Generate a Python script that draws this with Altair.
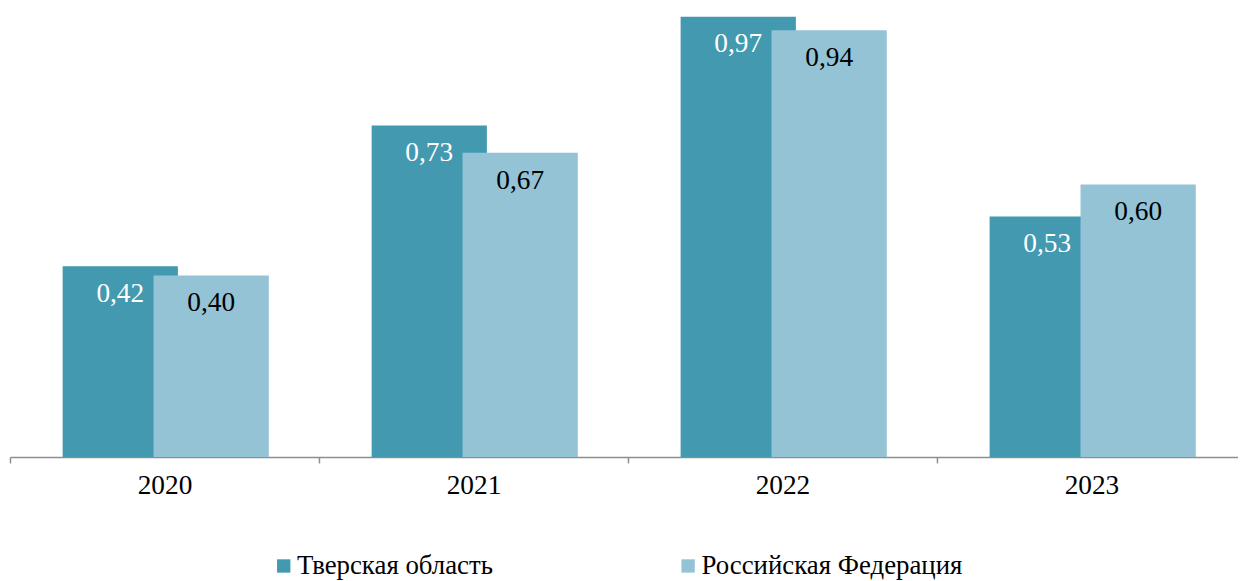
import altair as alt
import pandas as pd

years = ["2020", "2021", "2022", "2023"]
series_names = ["Тверская область", "Российская Федерация"]
tver = [0.42, 0.73, 0.97, 0.53]
rf = [0.40, 0.67, 0.94, 0.60]
colors = ["#4299B0", "#93C3D5"]

rows = []
for s, vals in zip(series_names, [tver, rf]):
    for y, v in zip(years, vals):
        rows.append({"year": y, "series": s, "value": v,
                     "label": f"{v:.2f}".replace(".", ",")})
df = pd.DataFrame(rows)

FONT = "Liberation Serif"

x_enc = alt.X("year:N", sort=years,
              scale=alt.Scale(range=[0, 1244], paddingInner=0, paddingOuter=0),
              axis=alt.Axis(title=None, labelAngle=0, tickBand="extent",
                            domainColor="#8E8E8E", domainWidth=1.5,
                            tickColor="#8E8E8E", tickWidth=1.5, tickSize=6,
                            labelFont=FONT, labelFontSize=27.5, labelColor="#000000",
                            labelBaseline="alphabetic", labelPadding=31))
y_enc = alt.Y("value:Q", scale=alt.Scale(domain=[0, 0.985], nice=False, zero=True), axis=None)
color_enc = alt.Color("series:N",
                      scale=alt.Scale(domain=series_names, range=colors),
                      legend=alt.Legend(title=None, orient="none", legendX=262, legendY=546,
                                        direction="horizontal", symbolType="square",
                                        symbolSize=180, symbolStrokeWidth=0,
                                        labelFont=FONT, labelFontSize=27, labelColor="#000000",
                                        labelLimit=500, labelOffset=0, columnPadding=182))

base = alt.Chart(df)

bar_dark = base.transform_filter(alt.datum.series == series_names[0]).mark_bar(
    xOffset=-44.5, width=116).encode(x=x_enc, y=y_enc, color=color_enc)
bar_light = base.transform_filter(alt.datum.series == series_names[1]).mark_bar(
    xOffset=47, width=116).encode(x=x_enc, y=y_enc, color=color_enc)

txt_dark = base.transform_filter(alt.datum.series == series_names[0]).mark_text(
    xOffset=-44.5, dy=28, baseline="middle", align="center", font=FONT, fontSize=27.5,
    color="#FFFFFF").encode(x=x_enc, y=y_enc, text="label:N")
txt_light = base.transform_filter(alt.datum.series == series_names[1]).mark_text(
    xOffset=47, dy=28, baseline="middle", align="center", font=FONT, fontSize=27.5,
    color="#000000").encode(x=x_enc, y=y_enc, text="label:N")

chart = alt.layer(bar_dark, bar_light, txt_dark, txt_light).properties(
    width=1236, height=450,
    background="#FFFFFF",
    autosize=alt.AutoSizeParams(type="none"),
    padding={"left": 2, "top": 0, "right": 0, "bottom": 123},
).configure(font=FONT).configure_view(stroke=None)

chart.save("out.html", embed_options={"renderer": "svg", "actions": False})
